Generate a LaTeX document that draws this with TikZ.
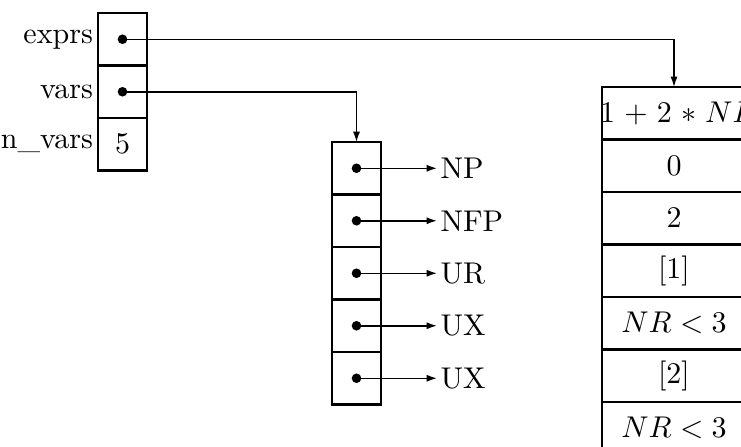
\documentclass[tikz,border=0pt]{standalone}
\usetikzlibrary{arrows.meta}
\begin{document}
\begin{tikzpicture}[x=0.33333pt,y=-0.33333pt,
  cell/.style={draw,line width=0.75pt,minimum width=16.33pt,minimum height=17.5pt,inner sep=0pt,outer sep=0pt},
  wcell/.style={draw,line width=0.75pt,minimum width=48pt,minimum height=17.5pt,inner sep=0pt,outer sep=0pt},
  lab/.style={anchor=east,inner sep=1.5pt},
  rlab/.style={anchor=west,inner sep=1pt},
  ptr/.style={line width=0.5pt,-{Latex[length=3.5pt,width=2.4pt]}},
  dot/.style={fill=black}]
\useasboundingbox (0,0) rectangle (741,446);
\clip (0,0) rectangle (741,446);
% left record
\node[cell] (e) at (122.5,39.25) {};
\node[cell] (v) at (122.5,91.75) {};
\node[cell] (n) at (122.5,144.25) {5};
\node[lab] (le) at (e.west) {exprs};
\node[lab] (lv) at (v.west) {vars};
\node[lab] (ln) at (n.west) {n\_vars};
% middle array
\foreach \i/\y in {1/168.25,2/220.75,3/273.25,4/325.75,5/378.25}{
  \node[cell] (m\i) at (356.5,\y) {};
}
\node[rlab] (t1) at (437,168.25) {NP};
\node[rlab] (t2) at (437,220.75) {NFP};
\node[rlab] (t3) at (437,273.25) {UR};
\node[rlab] (t4) at (437,325.75) {UX};
\node[rlab] (t5) at (437,378.25) {UX};
\foreach \i in {1,...,5}{
  \fill[dot] (m\i.center) circle (1.6pt);
  \draw[ptr] (m\i.center) -- (t\i.west);
}
% right array
\node[wcell] (r1) at (674,113.25) {\makebox[48pt][l]{\hspace{-0.6pt}$\medmuskip=5.5mu 1+2*NR$}};
\node[wcell] (r2) at (674,165.75) {$0$};
\node[wcell] (r3) at (674,218.25) {$2$};
\node[wcell] (r4) at (674,270.75) {$[1]$};
\node[wcell] (r5) at (674,323.25) {$NR<3$};
\node[wcell] (r6) at (674,375.75) {$[2]$};
\node[wcell] (r7) at (674,428.25) {$NR<3$};
% pointers
\fill[dot] (e.center) circle (1.6pt);
\fill[dot] (v.center) circle (1.6pt);
\draw[ptr] (e.center) -| (r1.north);
\draw[ptr] (v.center) -| (m1.north);
\end{tikzpicture}
\end{document}
